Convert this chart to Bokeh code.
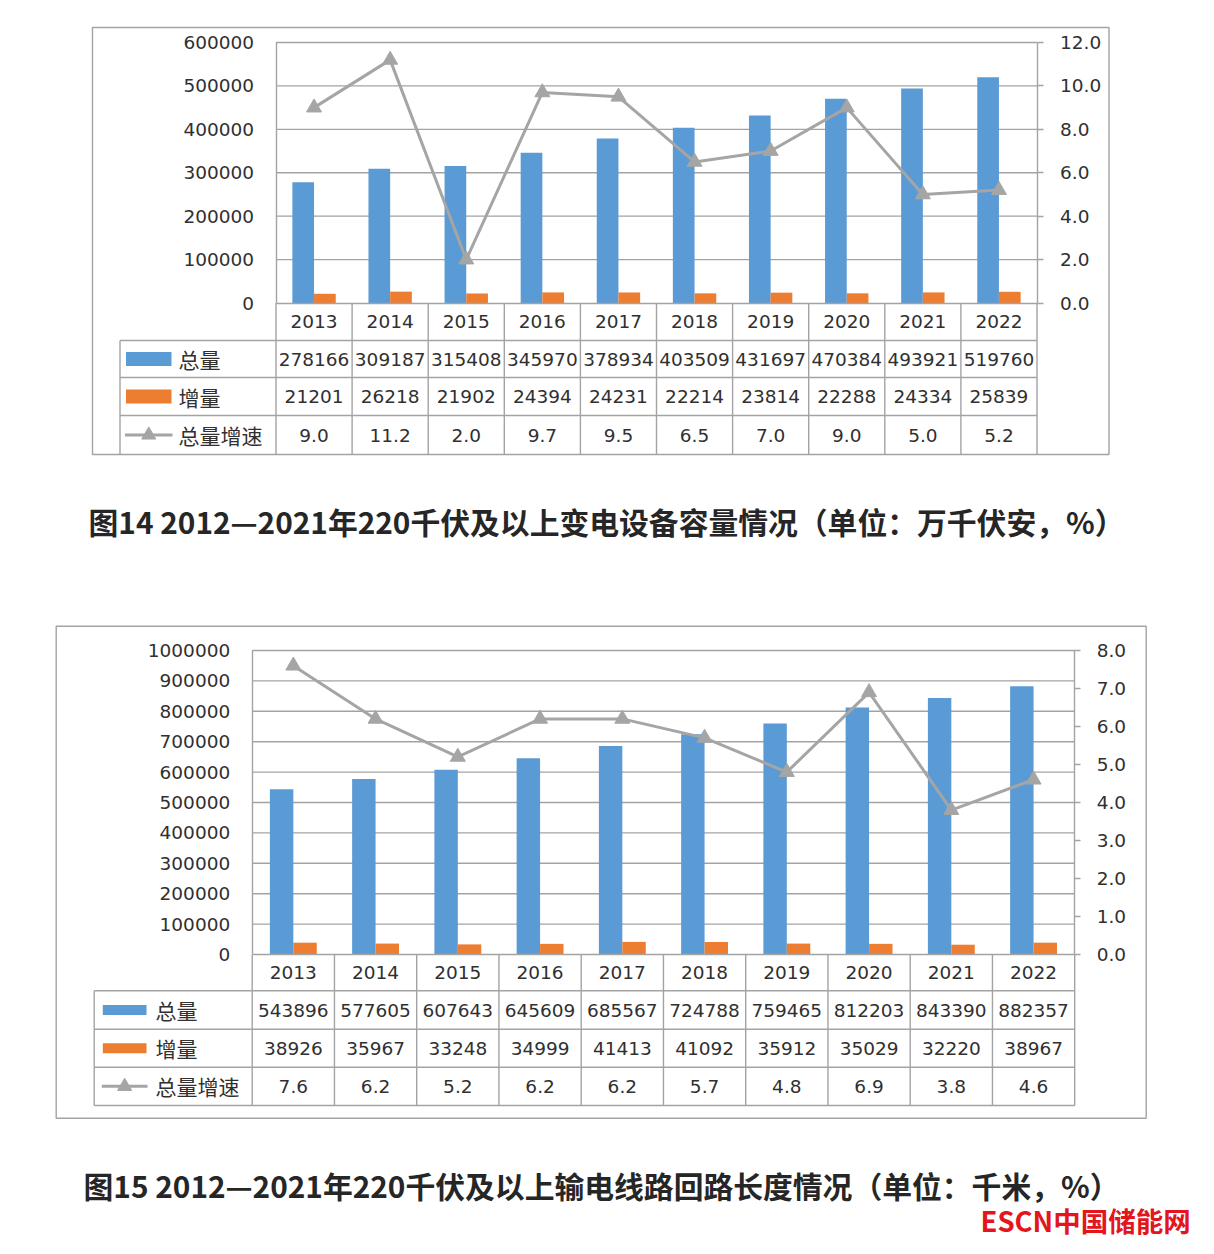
from bokeh.plotting import figure
from bokeh.models import Range1d, LinearAxis, FixedTicker, NumeralTickFormatter
from bokeh.layouts import column
from bokeh.embed import file_html
from bokeh.resources import INLINE
from bokeh.core.properties import value

# ---------------- data ----------------
years = ["2013", "2014", "2015", "2016", "2017", "2018", "2019", "2020", "2021", "2022"]
row_labels = ["总量", "增量", "总量增速"]

total_1 = [278166, 309187, 315408, 345970, 378934, 403509, 431697, 470384, 493921, 519760]
inc_1 = [21201, 26218, 21902, 24394, 24231, 22214, 23814, 22288, 24334, 25839]
rate_1 = [9.0, 11.2, 2.0, 9.7, 9.5, 6.5, 7.0, 9.0, 5.0, 5.2]
left_ticks_1 = [0, 100000, 200000, 300000, 400000, 500000, 600000]
right_ticks_1 = [0, 2, 4, 6, 8, 10, 12]
caption_1 = "图14  2012—2021年220千伏及以上变电设备容量情况（单位：万千伏安，%）"

total_2 = [543896, 577605, 607643, 645609, 685567, 724788, 759465, 812203, 843390, 882357]
inc_2 = [38926, 35967, 33248, 34999, 41413, 41092, 35912, 35029, 32220, 38967]
rate_2 = [7.6, 6.2, 5.2, 6.2, 6.2, 5.7, 4.8, 6.9, 3.8, 4.6]
left_ticks_2 = [0, 100000, 200000, 300000, 400000, 500000, 600000, 700000, 800000, 900000, 1000000]
right_ticks_2 = [0, 1, 2, 3, 4, 5, 6, 7, 8]
caption_2 = "图15  2012—2021年220千伏及以上输电线路回路长度情况（单位：千米，%）"
watermark = "ESCN中国储能网"

# ---------------- styles ----------------
W = 1206
BLUE = "#5B9BD5"
ORANGE = "#ED7D31"
GRAY = "#A5A5A5"
LINEC = "#A3A3A3"
TXT = "#303030"
NUM_FONT = "DejaVu Sans"
CJK_FONT = "Noto Sans CJK SC"
NUM_SIZE = "18.5px"

geo_1 = dict(box=(92, 27, 1108.5, 454), label_left=119.5, plot_left=275.5, col_w=76.1,
             plot_top=42, base=302.5, rows=[302.5, 340, 377, 415, 454], bottom_line=False,
             sw=(125.5, 171), sw_h=14, label_x=178, cap=(88, 520), tick_standoff=17,
             year_standoff=12)
geo_2 = dict(box=(55.7, 625.7, 1145.7, 1117.7), label_left=93.7, plot_left=251.7, col_w=82.25,
             plot_top=650, base=954, rows=[954, 990.3, 1028.7, 1066.7, 1105], bottom_line=True,
             sw=(102.3, 146), sw_h=10, label_x=155, cap=(83, 1184), tick_standoff=16,
             year_standoff=11)


def build(top, H, g, total, inc, rate, lt, rt, caption, mark=None):
    fx = lambda x: x
    fy = lambda y: y - top
    n = len(years)
    pl = fx(g["plot_left"])
    cw = g["col_w"]
    base = fy(g["base"])
    ptop = fy(g["plot_top"])
    upp = lt[-1] / (base - ptop)
    rpp = rt[-1] / (base - ptop)

    p = figure(width=W, height=H, title=None, toolbar_location=None, output_backend="svg",
               x_range=Range1d(-pl / cw, (W - pl) / cw),
               y_range=Range1d((base - H) * upp, base * upp),
               x_axis_location=None, y_axis_location=None, min_border=0,
               outline_line_color=None, background_fill_color="white", border_fill_color="white")
    p.extra_y_ranges = {"right": Range1d((base - H) * rpp, base * rpp), "py": Range1d(H, 0)}
    p.extra_x_ranges = {"px": Range1d(0, W)}
    p.grid.visible = False

    # outer box
    bx0, by0, bx1, by1 = g["box"]
    p.quad(left=[fx(bx0)], right=[fx(bx1)], top=[fy(by0)], bottom=[fy(by1)],
           x_range_name="px", y_range_name="py", fill_color=None, line_color=LINEC, line_width=1.4)

    # horizontal gridlines from left ticks
    gl = lt[1:]
    p.segment(x0=[0] * len(gl), x1=[n] * len(gl), y0=gl, y1=gl, line_color=LINEC, line_width=1.4)

    # bars
    bw = 0.285
    xs = [i + 0.5 for i in range(n)]
    p.vbar(x=[x - bw / 2 for x in xs], width=bw, top=total, bottom=0, fill_color=BLUE, line_color=None)
    p.vbar(x=[x + bw / 2 for x in xs], width=bw, top=inc, bottom=0, fill_color=ORANGE, line_color=None)

    # growth line
    p.line(x=xs, y=rate, y_range_name="right", line_color=GRAY, line_width=3)
    p.scatter(x=xs, y=rate, y_range_name="right", marker="triangle", size=15,
              fill_color=GRAY, line_color=GRAY)

    # axes
    la = LinearAxis(fixed_location=0, ticker=FixedTicker(ticks=lt),
                    formatter=NumeralTickFormatter(format="0"), bounds=(0, lt[-1]))
    ra = LinearAxis(fixed_location=n, y_range_name="right", ticker=FixedTicker(ticks=rt),
                    formatter=NumeralTickFormatter(format="0.0"), bounds=(0, rt[-1]))
    xa = LinearAxis(fixed_location=0, ticker=FixedTicker(ticks=xs),
                    major_label_overrides={x: y for x, y in zip(xs, years)}, bounds=(0, n))
    for ax in (la, ra, xa):
        ax.axis_line_color = LINEC
        ax.axis_line_width = 1.4
        ax.major_label_text_font = NUM_FONT
        ax.major_label_text_font_size = NUM_SIZE
        ax.major_label_text_color = TXT
        ax.minor_tick_line_color = None
        ax.major_tick_in = 0
    la.major_tick_line_color = None
    la.major_tick_out = 0
    la.major_label_standoff = 22
    ra.major_tick_line_color = LINEC
    ra.major_tick_line_width = 1.4
    ra.major_tick_out = 6
    ra.major_label_standoff = g["tick_standoff"]
    xa.major_tick_line_color = None
    xa.major_tick_out = 0
    xa.major_label_standoff = g["year_standoff"]
    p.add_layout(la, "left")
    p.add_layout(ra, "right")
    p.add_layout(xa, "below")

    # table grid
    rows = [fy(r) for r in g["rows"]]
    tl = fx(g["label_left"])
    tr = pl + n * cw
    hy = rows[1:-1] + ([rows[-1]] if g["bottom_line"] else [])
    p.segment(x0=[tl] * len(hy), x1=[tr] * len(hy), y0=hy, y1=hy,
              x_range_name="px", y_range_name="py", line_color=LINEC, line_width=1.4)
    p.segment(x0=[tl], x1=[tl], y0=[rows[1]], y1=[rows[-1]],
              x_range_name="px", y_range_name="py", line_color=LINEC, line_width=1.4)
    ks = list(range(n + 1))
    p.segment(x0=ks, x1=ks, y0=[rows[0]] * len(ks), y1=[rows[-1]] * len(ks),
              y_range_name="py", line_color=LINEC, line_width=1.4)

    # table values
    centers = [(rows[k] + rows[k + 1]) / 2 for k in range(1, 4)]
    cols = [[str(v) for v in total], [str(v) for v in inc], [f"{v:.1f}" for v in rate]]
    for c, vals in zip(centers, cols):
        p.text(x=xs, y=[c] * n, text=vals, y_range_name="py", text_align="center",
               text_baseline="middle", text_font=value(NUM_FONT), text_font_size=NUM_SIZE,
               text_color=TXT)

    # legend column
    sx0, sx1 = fx(g["sw"][0]), fx(g["sw"][1])
    h = g["sw_h"]
    p.quad(left=[sx0], right=[sx1], top=[centers[0] - h / 2], bottom=[centers[0] + h / 2],
           x_range_name="px", y_range_name="py", fill_color=BLUE, line_color=None)
    p.quad(left=[sx0], right=[sx1], top=[centers[1] - h / 2], bottom=[centers[1] + h / 2],
           x_range_name="px", y_range_name="py", fill_color=ORANGE, line_color=None)
    p.segment(x0=[sx0 - 1], x1=[sx1 + 1], y0=[centers[2]], y1=[centers[2]],
              x_range_name="px", y_range_name="py", line_color=GRAY, line_width=3)
    p.scatter(x=[(sx0 + sx1) / 2], y=[centers[2]], x_range_name="px", y_range_name="py",
              marker="triangle", size=14, fill_color=GRAY, line_color=GRAY)
    p.text(x=[fx(g["label_x"])] * 3, y=centers, text=row_labels, x_range_name="px", y_range_name="py",
           text_align="left", text_baseline="middle", text_font=value(CJK_FONT),
           text_font_size="21px", text_color=TXT)

    # caption
    cx, cy = g["cap"]
    p.text(x=[fx(cx)], y=[fy(cy)], text=[caption], x_range_name="px", y_range_name="py",
           text_align="left", text_baseline="middle", text_font=value(CJK_FONT),
           text_font_style="bold", text_font_size="29.8px", text_color="#262626")
    if mark is not None:
        p.text(x=[fx(980)], y=[fy(1219)], text=[mark], x_range_name="px", y_range_name="py",
               text_align="left", text_baseline="middle", text_font=value(CJK_FONT),
               text_font_style="bold", text_font_size="27.5px", text_color="#E3161E")
    return p


p1 = build(0, 575, geo_1, total_1, inc_1, rate_1, left_ticks_1, right_ticks_1, caption_1)
p2 = build(575, 670, geo_2, total_2, inc_2, rate_2, left_ticks_2, right_ticks_2, caption_2, watermark)

layout = column(p1, p2, spacing=0)
open("out.html", "w").write(file_html(layout, INLINE))
